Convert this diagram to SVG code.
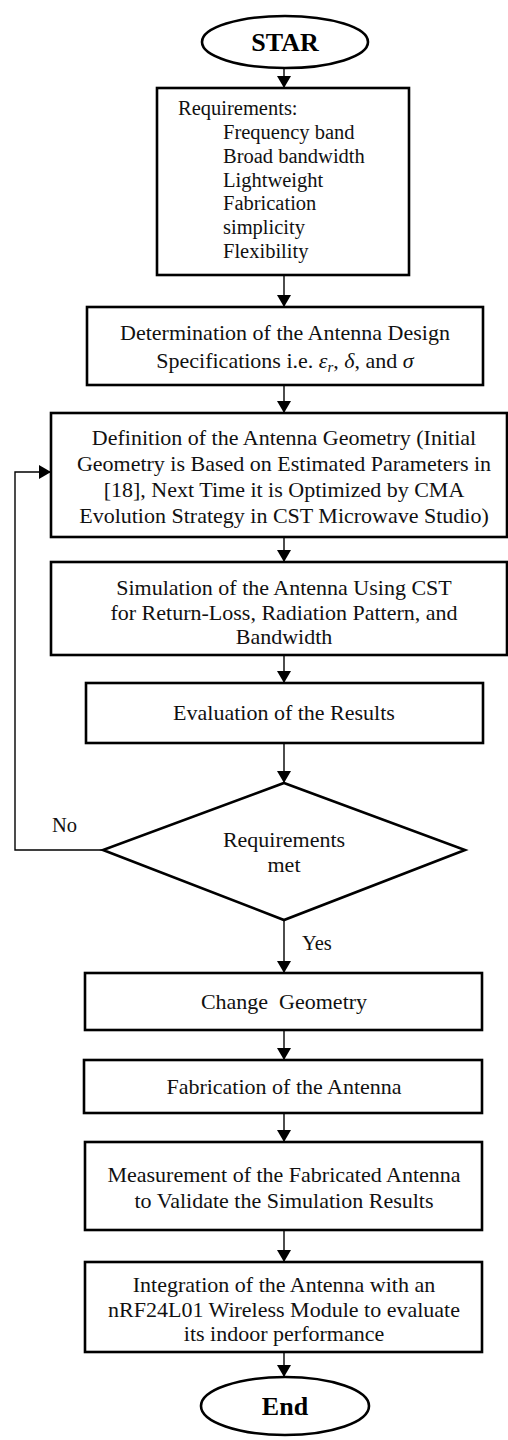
<svg xmlns="http://www.w3.org/2000/svg" width="508" height="1440" viewBox="0 0 508 1440">
<defs>
<style>
.box{fill:#fff;stroke:#000;stroke-width:2.6}
.t{font-family:"Liberation Serif","Times New Roman",serif;font-size:22px;fill:#111;text-anchor:middle}
.tl{font-family:"Liberation Serif","Times New Roman",serif;font-size:20.5px;fill:#111}
.b{font-family:"Liberation Serif","Times New Roman",serif;font-size:26px;font-weight:bold;fill:#000;text-anchor:middle}
.c{fill:none;stroke:#000;stroke-width:1.4}
</style>
<marker id="ah" markerWidth="12" markerHeight="14" refX="12" refY="7" orient="auto" markerUnits="userSpaceOnUse">
<path d="M0,0 L12,7 L0,14 Z" fill="#000"/>
</marker>
</defs>
<rect width="508" height="1440" fill="#fff"/>
<g id="connectors">
<line class="c" x1="284" y1="68" x2="284" y2="88" marker-end="url(#ah)"/>
<line class="c" x1="284" y1="275" x2="284" y2="307" marker-end="url(#ah)"/>
<line class="c" x1="284" y1="385" x2="284" y2="413" marker-end="url(#ah)"/>
<line class="c" x1="284" y1="537" x2="284" y2="562" marker-end="url(#ah)"/>
<line class="c" x1="284" y1="655" x2="284" y2="683" marker-end="url(#ah)"/>
<line class="c" x1="284" y1="743" x2="284" y2="783" marker-end="url(#ah)"/>
<line class="c" x1="284" y1="920" x2="284" y2="973" marker-end="url(#ah)"/>
<line class="c" x1="284" y1="1030" x2="284" y2="1060" marker-end="url(#ah)"/>
<line class="c" x1="284" y1="1113" x2="284" y2="1142" marker-end="url(#ah)"/>
<line class="c" x1="284" y1="1230" x2="284" y2="1262" marker-end="url(#ah)"/>
<line class="c" x1="284" y1="1352" x2="284" y2="1377" marker-end="url(#ah)"/>
<polyline class="c" points="103,850 15,850 15,472 51,472" marker-end="url(#ah)"/>
<text class="tl" x="52" y="832" font-size="22">No</text>
<text class="tl" x="302" y="950" font-size="22">Yes</text>
</g>
<g id="start">
<ellipse cx="285" cy="42" rx="83" ry="26" fill="#fff" stroke="#000" stroke-width="2.6"/>
<text class="b" x="285" y="51">STAR</text>
</g>
<g id="requirements">
<rect class="box" x="157" y="88" width="252" height="187"/>
<text class="tl" x="178" y="115">Requirements:</text>
<text class="tl" x="223" y="139">Frequency band</text>
<text class="tl" x="223" y="163">Broad bandwidth</text>
<text class="tl" x="223" y="187">Lightweight</text>
<text class="tl" x="223" y="210">Fabrication</text>
<text class="tl" x="223" y="234">simplicity</text>
<text class="tl" x="223" y="258">Flexibility</text>
</g>
<g id="specs">
<rect class="box" x="87" y="307" width="396" height="78"/>
<text class="t" x="285" y="340">Determination of the Antenna Design</text>
<text class="t" x="285" y="368">Specifications i.e. <tspan font-style="italic">ε</tspan><tspan font-style="italic" font-size="15" dy="4">r</tspan><tspan dy="-4">, </tspan><tspan font-style="italic">δ</tspan>, and <tspan font-style="italic">σ</tspan></text>
</g>
<g id="geometry">
<rect class="box" x="51" y="413" width="456" height="124"/>
<text class="t" x="284" y="445">Definition of the Antenna Geometry (Initial</text>
<text class="t" x="284" y="471">Geometry is Based on Estimated Parameters in</text>
<text class="t" x="284" y="497">[18], Next Time it is Optimized by CMA</text>
<text class="t" x="284" y="523">Evolution Strategy in CST Microwave Studio)</text>
</g>
<g id="simulation">
<rect class="box" x="51" y="562" width="456" height="93"/>
<text class="t" x="284" y="595">Simulation of the Antenna Using CST</text>
<text class="t" x="284" y="620">for Return-Loss, Radiation Pattern, and</text>
<text class="t" x="284" y="644">Bandwidth</text>
</g>
<g id="evaluation">
<rect class="box" x="86" y="683" width="397" height="60"/>
<text class="t" x="284" y="720">Evaluation of the Results</text>
</g>
<g id="decision">
<polygon points="284,783 465,850 284,920 103,850" fill="#fff" stroke="#000" stroke-width="2.6"/>
<text class="t" x="284" y="847">Requirements</text>
<text class="t" x="284" y="872">met</text>
</g>
<g id="change">
<rect class="box" x="85" y="973" width="397" height="57"/>
<text class="t" x="284" y="1009" xml:space="preserve">Change  Geometry</text>
</g>
<g id="fabrication">
<rect class="box" x="84" y="1060" width="398" height="53"/>
<text class="t" x="284" y="1094">Fabrication of the Antenna</text>
</g>
<g id="measurement">
<rect class="box" x="85" y="1142" width="397" height="88"/>
<text class="t" x="284" y="1182">Measurement of the Fabricated Antenna</text>
<text class="t" x="284" y="1208">to Validate the Simulation Results</text>
</g>
<g id="integration">
<rect class="box" x="85" y="1262" width="397" height="90"/>
<text class="t" x="284" y="1292">Integration of the Antenna with an</text>
<text class="t" x="284" y="1317">nRF24L01 Wireless Module to evaluate</text>
<text class="t" x="284" y="1341">its indoor performance</text>
</g>
<g id="end">
<ellipse cx="285" cy="1406" rx="84" ry="29" fill="#fff" stroke="#000" stroke-width="2.6"/>
<text class="b" x="285" y="1415">End</text>
</g>
</svg>
